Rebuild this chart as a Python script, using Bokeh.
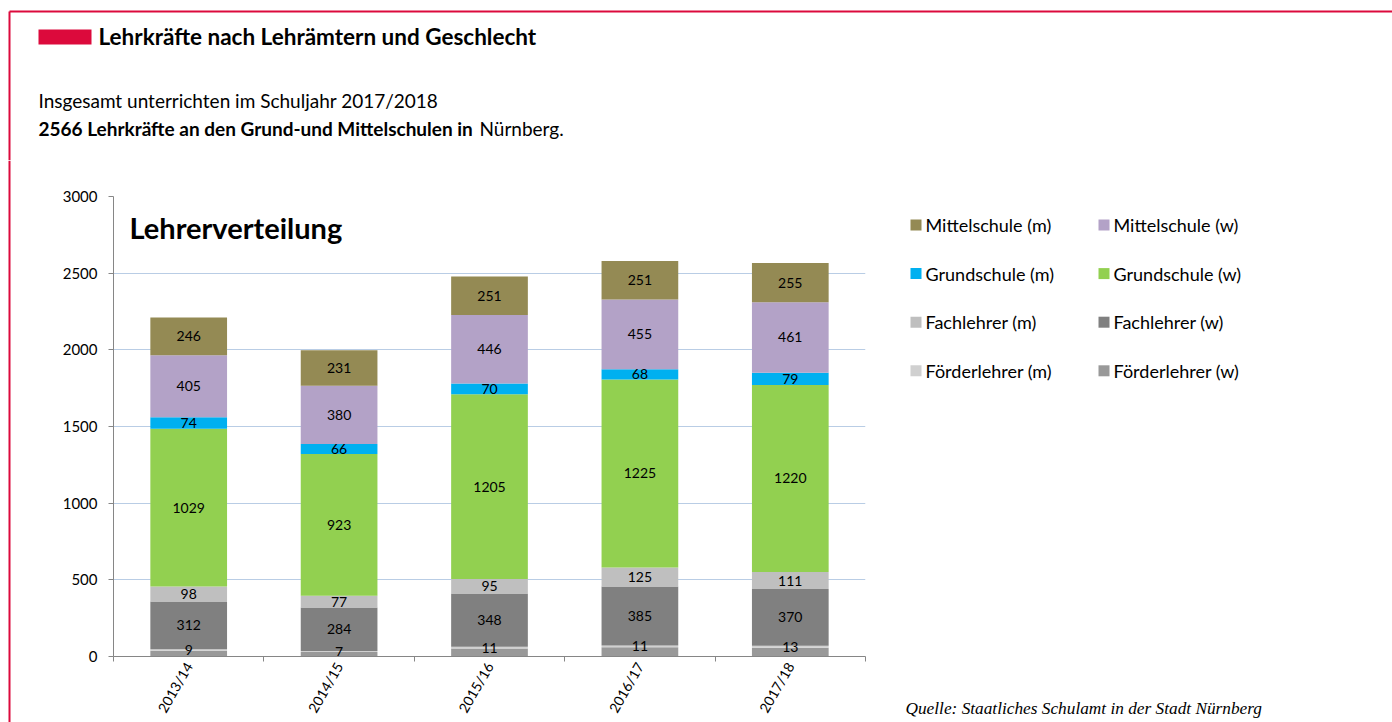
import math
from bokeh.plotting import figure
from bokeh.layouts import column, row
from bokeh.models import ColumnDataSource, Range1d, FixedTicker, Label
from bokeh.core.properties import value
from bokeh.embed import file_html
from bokeh.resources import INLINE

# ---------------- data ----------------
years = ["2013/14", "2014/15", "2015/16", "2016/17", "2017/18"]
foerder_w = [38, 29, 52, 60, 57]
foerder_m = [9, 7, 11, 11, 13]
fach_w = [312, 284, 348, 385, 370]
fach_m = [98, 77, 95, 125, 111]
grund_w = [1029, 923, 1205, 1225, 1220]
grund_m = [74, 66, 70, 68, 79]
mittel_w = [405, 380, 446, 455, 461]
mittel_m = [246, 231, 251, 251, 255]

series_keys = ["foerder_w", "foerder_m", "fach_w", "fach_m",
               "grund_w", "grund_m", "mittel_w", "mittel_m"]
series_values = [foerder_w, foerder_m, fach_w, fach_m,
                 grund_w, grund_m, mittel_w, mittel_m]
series_labels = ["Förderlehrer (w)", "Förderlehrer (m)", "Fachlehrer (w)", "Fachlehrer (m)",
                 "Grundschule (w)", "Grundschule (m)", "Mittelschule (w)", "Mittelschule (m)"]
series_colors = ["#999999", "#D0D0D0", "#808080", "#BFBFBF",
                 "#92D050", "#00B0F0", "#B3A2C7", "#948A54"]
labelled = [False, True, True, True, True, True, True, True]

legend_col1 = ["Mittelschule (m)", "Grundschule (m)", "Fachlehrer (m)", "Förderlehrer (m)"]
legend_col2 = ["Mittelschule (w)", "Grundschule (w)", "Fachlehrer (w)", "Förderlehrer (w)"]

y_ticks = [0, 500, 1000, 1500, 2000, 2500, 3000]

FONT = "Lato"
RED = "#DC0A3C"

PAGE_W, PAGE_H = 1392, 722
HEAD_H = 160
STRIP_W = 12
CHART_W = 868
SIDE_W = PAGE_W - STRIP_W - CHART_W
BODY_H = PAGE_H - HEAD_H


def deco_figure(x0, x1, y0, y1):
    f = figure(width=x1 - x0, height=y1 - y0, output_backend="svg",
               toolbar_location=None, x_axis_type=None, y_axis_type=None,
               x_range=Range1d(x0, x1), y_range=Range1d(y1, y0),
               min_border=0, frame_align=False)
    f.outline_line_color = None
    f.grid.visible = False
    f.background_fill_color = "white"
    f.border_fill_color = "white"
    return f


# ---------------- header ----------------
head = deco_figure(0, PAGE_W, 0, HEAD_H)
head.segment(x0=[9, 9], y0=[11, 11], x1=[PAGE_W, 9], y1=[11, HEAD_H],
             line_color=RED, line_width=2)
head.quad(left=[38], right=[91], top=[29], bottom=[44], fill_color=RED, line_color=None)


def htext(f, x, y, t, size, style="normal", font=FONT):
    f.text(x=[x], y=[y], text=[t], text_font=value(font), text_font_size=size,
           text_font_style=style, text_baseline="middle", text_align="left",
           text_color="#000000")


htext(head, 98, 36, "Lehrkräfte nach Lehrämtern und Geschlecht", "22.5px", "bold")
htext(head, 38, 100, "Insgesamt unterrichten im Schuljahr 2017/2018", "19px")
htext(head, 38, 128, "2566 Lehrkräfte an den Grund-und Mittelschulen in", "19px", "bold")
htext(head, 479, 128, "Nürnberg.", "19px")

# ---------------- left border strip ----------------
strip = deco_figure(0, STRIP_W, HEAD_H, PAGE_H)
strip.segment(x0=[9], y0=[HEAD_H], x1=[9], y1=[PAGE_H], line_color=RED, line_width=2)

# ---------------- chart ----------------
FL = 113 - STRIP_W           # frame left inside chart canvas
FT = 196 - HEAD_H            # frame top
FW, FH = 752, 460
p = figure(width=CHART_W, height=BODY_H, output_backend="svg", toolbar_location=None,
           x_range=Range1d(0, len(years)), y_range=Range1d(0, 3000),
           min_border_left=FL, min_border_top=FT,
           min_border_right=CHART_W - FL - FW, min_border_bottom=BODY_H - FT - FH,
           frame_align=False)
p.outline_line_color = None
p.background_fill_color = "white"
p.border_fill_color = "white"

xs = [i + 0.5 for i in range(len(years))]
data = {"x": xs}
for k, v in zip(series_keys, series_values):
    data[k] = v
src = ColumnDataSource(data)
renderers = p.vbar_stack(series_keys, x="x", width=0.51, color=series_colors,
                         line_color=None, source=src)

lx, ly, lt = [], [], []
cum = [0] * len(years)
for vals, show in zip(series_values, labelled):
    for i, v in enumerate(vals):
        if show:
            lx.append(xs[i])
            ly.append(cum[i] + v / 2)
            lt.append(str(v))
        cum[i] += v
p.text(x=lx, y=ly, text=lt, text_align="center", text_baseline="middle",
       text_font=value(FONT), text_font_size="14px", text_color="#000000")

p.yaxis.ticker = FixedTicker(ticks=y_ticks)
p.yaxis.axis_line_color = "#868686"
p.yaxis.major_tick_line_color = "#868686"
p.yaxis.major_tick_out = 5
p.yaxis.major_tick_in = 0
p.yaxis.minor_tick_line_color = None
p.yaxis.major_label_text_font = FONT
p.yaxis.major_label_text_font_size = "15px"
p.yaxis.major_label_text_color = "#000000"
p.yaxis.major_label_standoff = 11

p.xaxis.ticker = FixedTicker(ticks=xs, minor_ticks=list(range(len(years) + 1)))
p.xaxis.major_label_overrides = {x: y for x, y in zip(xs, years)}
p.xaxis.axis_line_color = "#868686"
p.xaxis.major_tick_line_color = None
p.xaxis.major_tick_out = 0
p.xaxis.major_tick_in = 0
p.xaxis.minor_tick_line_color = "#868686"
p.xaxis.minor_tick_out = 5
p.xaxis.minor_tick_in = 0
p.xaxis.major_label_orientation = math.pi / 3
p.xaxis.major_label_text_font = FONT
p.xaxis.major_label_text_font_size = "14px"
p.xaxis.major_label_text_color = "#000000"
p.xaxis.major_label_standoff = 2

p.xgrid.grid_line_color = None
p.ygrid.ticker = FixedTicker(ticks=y_ticks)
p.ygrid.grid_line_color = "#B9CDE5"

p.add_layout(Label(x=16, y=656 - 227, x_units="screen", y_units="screen",
                   text="Lehrerverteilung", text_font=FONT, text_font_size="29px",
                   text_font_style="bold", text_baseline="middle", text_color="#000000"))

# ---------------- side: legend + source ----------------
side = deco_figure(STRIP_W + CHART_W, PAGE_W, HEAD_H, PAGE_H)
cmap = dict(zip(series_labels, series_colors))
row_y0, row_dy, sq = 224.5, 48.6, 11
for col_names, x_sq in [(legend_col1, 910), (legend_col2, 1098)]:
    ys = [row_y0 + i * row_dy for i in range(len(col_names))]
    side.rect(x=[x_sq + sq / 2] * len(col_names), y=ys, width=sq, height=sq,
              fill_color=[cmap[n] for n in col_names], line_color=None)
    side.text(x=[x_sq + sq + 4] * len(col_names), y=ys, text=col_names,
              text_font=value(FONT), text_font_size="18px", text_baseline="middle",
              text_align="left", text_color="#000000")

htext(side, 905, 708, "Quelle: Staatliches Schulamt in der Stadt Nürnberg", "17.3px",
      "italic", font="Liberation Serif")

layout = column(head, row(strip, p, side))
open("out.html", "w").write(file_html(layout, INLINE))
